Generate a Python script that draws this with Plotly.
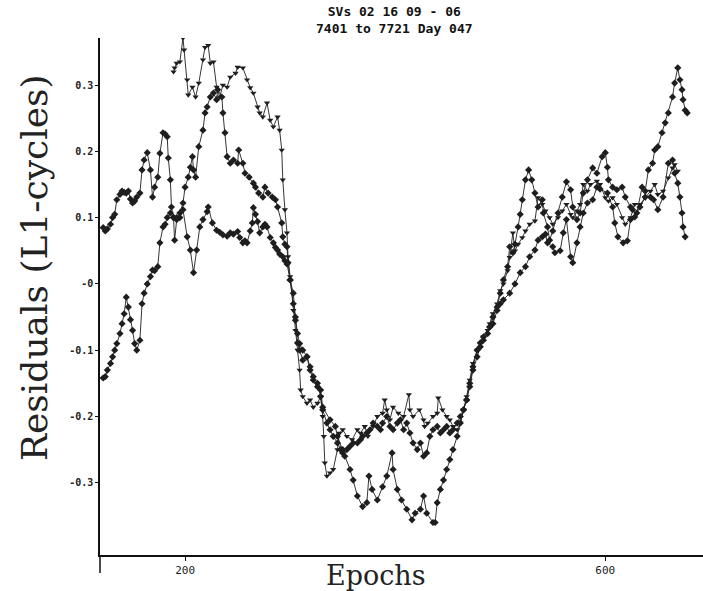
import plotly.graph_objects as go

# Double-difference carrier residuals (L1 cycles) against epoch number
TITLE_LINE1 = "SVs 02 16 09 - 06"
TITLE_LINE2 = "7401 to 7721 Day 047"
Y_TITLE = "Residuals (L1-cycles)"
X_TITLE = "Epochs"

Y_TICK_VALS = [0.3, 0.2, 0.1, 0.0, -0.1, -0.2, -0.3]
Y_TICK_TEXT = ["0.3", "0.2", "0.1", "-0", "-0.1", "-0.2", "-0.3"]
X_TICK_VALS = [200, 600]
X_TICK_TEXT = ["200", "600"]

# SV 02 - 06
sv02_epoch = [
    122, 124, 126, 129, 131, 133, 135, 138, 140, 142,
    144, 146, 148, 150, 152, 154, 157, 159, 161, 164,
    167, 169, 171, 174, 176, 179, 181, 183, 184, 186,
    187, 189, 190, 192, 195, 198, 202, 205, 208, 211,
    214, 217, 221, 222, 226, 230, 233, 236, 240, 243,
    246, 250, 252, 255, 257, 259, 262, 264, 265, 267,
    269, 271, 274, 276, 278, 281, 284, 286, 288, 290,
    293, 295, 297, 300, 303, 305, 307, 309, 312, 316,
    319, 322, 326, 329, 331, 335, 338, 341, 345, 348,
    350, 354, 357, 360, 364, 367, 369, 373, 376, 379,
    383, 386, 388, 392, 395, 398, 402, 405, 408, 411,
    414, 417, 421, 424, 427, 430, 433, 436, 440, 443,
    446, 449, 452, 455, 459, 462, 465, 468, 471, 474,
    478, 481, 484, 488, 490, 493, 497, 500, 503, 507,
    509, 512, 514, 517, 519, 521, 524, 527, 530, 533,
    536, 540, 541, 545, 547, 550, 555, 559, 563, 567,
    569, 573, 576, 579, 583, 588, 592, 597, 600, 602,
    603, 607, 611, 616, 619, 624, 626, 630, 635, 638,
    641, 645, 647, 650, 654, 657, 660, 664, 666, 669,
    671, 673, 674, 676, 678,
]
sv02_resid = [
    .085, .080, .083, .090, .100, .105, .127, .135, .140, .138,
    .137, .140, .128, .122, .125, .131, .137, .172, .187, .198,
    .172, .131, .146, .161, .197, .228, .226, .222, .190, .157,
    .116, .100, .066, .097, .100, .112, .071, .051, .017, .051,
    .086, .097, .109, .116, .092, .081, .078, .074, .072, .077,
    .075, .079, .070, .062, .065, .062, .080, .092, .115, .105,
    .094, .077, .086, .090, .086, .070, .062, .055, .051, .045,
    .041, .035, .030, .006, -.030, -.055, -.075, -.090, -.100, -.110,
    -.125, -.140, -.150, -.170, -.190, -.210, -.220, -.230, -.240, -.250,
    -.255, -.250, -.245, -.240, -.240, -.235, -.230, -.225, -.220, -.210,
    -.215, -.220, -.210, -.200, -.215, -.220, -.210, -.205, -.220, -.210,
    -.225, -.240, -.250, -.240, -.260, -.255, -.230, -.220, -.215, -.225,
    -.220, -.215, -.225, -.220, -.210, -.200, -.190, -.175, -.155, -.130,
    -.110, -.095, -.085, -.075, -.065, -.050, -.035, -.014, .006, .026,
    .056, .047, .060, .086, .105, .127, .157, .172, .157, .137,
    .116, .127, .107, .086, .066, .080, .107, .131, .154, .142,
    .116, .097, .107, .137, .157, .175, .167, .192, .198, .176,
    .157, .146, .142, .146, .131, .116, .112, .107, .146, .140,
    .172, .182, .202, .207, .228, .243, .258, .282, .303, .326,
    .308, .293, .278, .262, .258,
]

# SV 16 - 06
sv16_epoch = [
    189, 190, 192, 195, 198, 199, 202, 203, 207, 210,
    213, 217, 219, 222, 224, 227, 230, 233, 236, 240,
    243, 248, 250, 255, 259, 262, 265, 269, 271, 274,
    278, 281, 284, 288, 290, 292, 293, 295, 297, 298,
    300, 303, 305, 307, 309, 310, 312, 316, 319, 322,
    326, 329, 331, 332, 333, 335, 338, 341, 345, 347,
    350, 354, 359, 364, 367, 371, 374, 379, 383, 388,
    390, 392, 395, 398, 403, 408, 413, 414, 417, 423,
    427, 428, 431, 436, 440, 441, 445, 449, 452, 455,
    459, 462, 465, 468, 471, 474, 478, 481, 484, 488,
    490, 493, 497, 500, 503, 507, 509, 512, 514, 517,
    521, 524, 528, 533, 536, 540, 543, 547, 550, 555,
    559, 563, 567, 569, 573, 576, 579, 583, 586, 592,
    595, 600, 603, 607, 611, 616, 619, 624, 628, 633,
    638, 643, 647, 650, 655, 660, 664, 666, 669,
]
sv16_resid = [
    .320, .326, .333, .335, .371, .353, .308, .285, .297, .282,
    .303, .338, .357, .360, .333, .335, .297, .282, .300, .297,
    .312, .318, .327, .326, .308, .296, .288, .267, .258, .252,
    .273, .247, .237, .252, .232, .202, .157, .112, .077, .041,
    .011, -.040, -.070, -.100, -.130, -.160, -.170, -.180, -.175, -.186,
    -.180, -.170, -.200, -.230, -.270, -.290, -.285, -.280, -.250, -.225,
    -.220, -.230, -.235, -.220, -.225, -.215, -.230, -.215, -.200, -.195,
    -.175, -.190, -.205, -.186, -.195, -.200, -.167, -.190, -.200, -.190,
    -.205, -.215, -.210, -.200, -.195, -.172, -.190, -.200, -.205, -.215,
    -.220, -.210, -.190, -.170, -.145, -.120, -.100, -.090, -.080, -.070,
    -.060, -.045, -.030, -.010, .000, .020, .040, .077, .050, .060,
    .070, .080, .090, .095, .130, .120, .110, .100, .090, .100,
    .110, .120, .105, .100, .110, .120, .150, .140, .150, .155,
    .150, .130, .125, .130, .120, .100, .090, .100, .120, .120,
    .130, .140, .150, .135, .140, .160, .175, .180, .170,
]

# SV 09 - 06
sv09_epoch = [
    122, 124, 126, 129, 131, 133, 135, 138, 140, 142,
    144, 146, 148, 150, 152, 154, 157, 159, 161, 164,
    167, 169, 171, 174, 176, 179, 181, 183, 186, 189,
    192, 195, 198, 200, 203, 205, 207, 208, 210, 213,
    217, 219, 221, 224, 227, 230, 231, 235, 236, 238,
    240, 243, 246, 250, 251, 255, 257, 261, 265, 267,
    270, 274, 276, 279, 283, 286, 288, 292, 293, 295,
    297, 298, 300, 303, 305, 307, 309, 312, 316, 319,
    322, 326, 329, 331, 338, 343, 345, 350, 352, 357,
    360, 364, 369, 373, 375, 378, 383, 388, 392, 397,
    398, 402, 406, 411, 416, 419, 424, 427, 430, 436,
    438, 440, 443, 446, 449, 452, 455, 459, 462, 465,
    468, 471, 474, 478, 481, 484, 490, 493, 497, 500,
    503, 509, 514, 519, 524, 528, 533, 536, 540, 543,
    545, 550, 552, 557, 560, 563, 567, 569, 573, 576,
    579, 583, 588, 592, 595, 602, 607, 609, 612, 617,
    621, 624, 628, 633, 638, 643, 646, 650, 655, 660,
    664, 666, 669, 671, 673, 674, 676,
]
sv09_resid = [
    -.142, -.140, -.130, -.120, -.110, -.100, -.090, -.075, -.060, -.045,
    -.020, -.035, -.054, -.070, -.090, -.100, -.085, -.030, -.014, .000,
    .011, .021, .020, .026, .062, .086, .090, .100, .107, .100,
    .100, .107, .122, .146, .161, .176, .192, .172, .161, .207,
    .232, .258, .267, .282, .288, .278, .293, .282, .258, .228,
    .192, .182, .187, .182, .202, .182, .167, .161, .152, .146,
    .137, .131, .146, .137, .131, .127, .116, .092, .071, .060,
    .056, .032, .006, -.014, -.050, -.089, -.100, -.115, -.110, -.130,
    -.145, -.155, -.160, -.186, -.205, -.215, -.230, -.250, -.260, -.280,
    -.296, -.320, -.336, -.330, -.290, -.310, -.326, -.306, -.290, -.255,
    -.280, -.310, -.326, -.340, -.356, -.346, -.340, -.320, -.346, -.360,
    -.360, -.330, -.310, -.296, -.280, -.265, -.250, -.230, -.210, -.190,
    -.175, -.150, -.125, -.100, -.089, -.080, -.065, -.060, -.040, -.030,
    -.024, -.014, .000, .017, .026, .041, .051, .066, .071, .075,
    .062, .056, .047, .050, .077, .097, .041, .032, .062, .086,
    .107, .122, .127, .146, .143, .137, .116, .092, .071, .062,
    .065, .097, .101, .116, .131, .131, .127, .112, .131, .182,
    .187, .167, .152, .131, .107, .086, .071,
]

assert len(sv02_epoch) == len(sv02_resid)
assert len(sv16_epoch) == len(sv16_resid)
assert len(sv09_epoch) == len(sv09_resid)

INK = "#1e1e1e"
SERIF = "DejaVu Serif, Liberation Serif, serif"

series = [
    ("02-06", sv02_epoch, sv02_resid, "diamond"),
    ("16-06", sv16_epoch, sv16_resid, "triangle-down"),
    ("09-06", sv09_epoch, sv09_resid, "diamond"),
]

fig = go.Figure()
for name, ep, res, sym in series:
    fig.add_trace(go.Scatter(
        x=ep, y=res, name=name, mode="lines+markers",
        line=dict(color=INK, width=0.9),
        marker=dict(symbol=sym, size=5.5, color=INK, line=dict(width=0)),
        showlegend=False,
    ))

fig.update_layout(
    width=703, height=591,
    margin=dict(l=100, r=0, t=38, b=36),
    paper_bgcolor="white", plot_bgcolor="white",
    xaxis=dict(
        range=[119, 693], tickvals=X_TICK_VALS, ticktext=X_TICK_TEXT,
        showline=True, linecolor="#111", linewidth=1.5, mirror=False,
        ticks="outside", ticklen=4, tickcolor="#111", tickwidth=1,
        showgrid=False, zeroline=False, automargin=False,
        tickfont=dict(family="DejaVu Sans Mono", size=11, color="#222"),
    ),
    yaxis=dict(
        range=[-0.409, 0.371], tickvals=Y_TICK_VALS, ticktext=Y_TICK_TEXT,
        showline=True, linecolor="#111", linewidth=1.5, mirror=False,
        ticks="outside", ticklen=3, tickcolor="#111", tickwidth=1,
        showgrid=False, zeroline=False, automargin=False,
        tickfont=dict(family="DejaVu Sans Mono", size=10, color="#222", weight="bold"),
    ),
    shapes=[dict(type="line", xref="paper", yref="paper", x0=0, x1=0,
                 y0=-0.035, y1=0, line=dict(color="#111", width=1.5))],
    annotations=[
        dict(text=TITLE_LINE1 + "<br>" + TITLE_LINE2,
             xref="paper", yref="paper", x=0.489, y=1.0, yshift=18,
             showarrow=False, xanchor="center", yanchor="middle",
             font=dict(family="DejaVu Sans Mono", size=13, color="#111", weight="bold")),
        dict(text=X_TITLE, xref="paper", yref="paper", x=0.458, y=0, yshift=-20,
             showarrow=False, xanchor="center", yanchor="middle",
             font=dict(family=SERIF, size=27, color="#222")),
        dict(text=Y_TITLE, xref="paper", yref="paper", x=0, xshift=-66, y=0.555,
             showarrow=False, xanchor="center", yanchor="middle", textangle=-90,
             font=dict(family=SERIF, size=36, color="#222")),
    ],
)

fig.write_html("out.html")
